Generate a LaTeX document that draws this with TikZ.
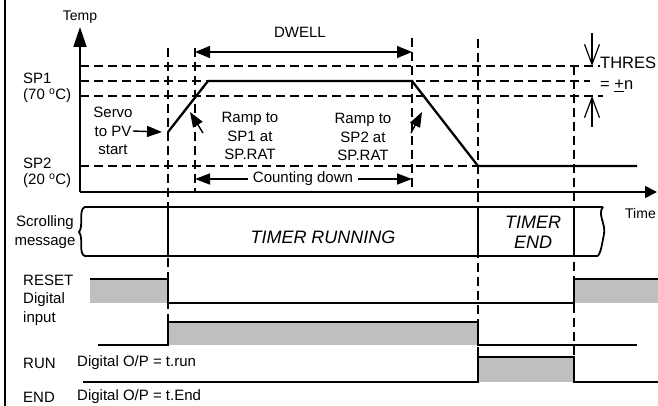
\documentclass[tikz,border=0pt]{standalone}
\usepackage{fontspec}
\setmainfont{Liberation Sans}
\usetikzlibrary{arrows.meta}

\begin{document}
\begin{tikzpicture}[x=1pt,y=-1pt]
    \tikzstyle{lbl} = [inner sep=0pt, font=\fontsize{15}{18.5}\selectfont, align=center]
    \tikzstyle{lft} = [lbl, anchor=west, align=left]
    \tikzstyle{msg} = [inner sep=0pt, font=\fontsize{18}{20}\selectfont\itshape, align=center]
    \tikzstyle{guide} = [dash pattern=on 9pt off 5pt, line width=1.2pt]
    \tikzstyle{trace} = [line width=2.3pt]
    \tikzstyle{bar} = [line width=1.8pt]
    \tikzstyle{level} = [fill=black!25, draw=none]
    \tikzstyle{tip} = [-{Triangle[length=15pt,width=11pt]}, line width=1.4pt]
    \tikzstyle{barb} = [-{Straight Barb[length=20pt,width=15pt]}, line width=1.2pt]
    \useasboundingbox (0,0) rectangle (658,406);
    \draw[line width=2pt] (5,0) -- (5,406);

    % axes
    \coordinate (origin) at (80,192);
    \coordinate (tempend) at (80,27);
    \coordinate (timeend) at (657,192);
    \draw[line width=1.8pt, -{Triangle[length=20pt,width=13pt]}] (origin) -- (tempend);
    \draw[line width=1.8pt, -{Triangle[length=12pt,width=12pt]}] (origin) -- (timeend);
    \node (temp) [lbl, font=\fontsize{14}{16}\selectfont] at (80,17) {Temp};
    \node (time) [lft, font=\fontsize{14}{16}\selectfont] at (625,213) {Time};

    % guide lines
    \draw[guide] (80,66) -- (600,66);
    \draw[guide] (80,81) -- (590,81);
    \draw[guide] (80,96) -- (603,96);
    \draw[guide] (80,166) -- (478,166);
    \draw[guide] (168,48) -- (168,345);
    \draw[guide] (195,48) -- (195,192);
    \draw[guide] (412,38) -- (412,192);
    \draw[guide] (478,39) -- (478,357);
    \draw[guide] (574,66) -- (574,357);

    \node (sp1) [lft, font=\fontsize{15}{16.5}\selectfont] at (23,88) {SP1\\(70 \textsuperscript{o}C)};
    \node (sp2) [lft, font=\fontsize{15}{16.5}\selectfont] at (23,173) {SP2\\(20 \textsuperscript{o}C)};

    % setpoint profile
    \draw[trace] (168,132) -- (208,81) -- (412,81) -- (478,166) -- (637,166);

    \node (servo) [lbl] at (113,131) {Servo\\to PV\\start};
    \coordinate (servohd) at (162,132);
    \draw[tip] (servo.east) -- (servohd);
    \node (ramp1) [lbl] at (250,136) {Ramp to\\SP1 at\\SP.RAT};
    \coordinate (r1tail) at (203,133);
    \coordinate (r1head) at (190,112);
    \draw[tip] (r1tail) -- (r1head);
    \node (ramp2) [lbl] at (363,137) {Ramp to\\SP2 at\\SP.RAT};
    \coordinate (r2tail) at (411,133);
    \coordinate (r2head) at (422,112);
    \draw[tip] (r2tail) -- (r2head);

    \node (dwell) [lbl] at (300,32) {DWELL};
    \coordinate (dwl) at (195,52);
    \coordinate (dwr) at (412,52);
    \draw[tip, {Triangle[length=15pt,width=12pt]}-{Triangle[length=15pt,width=12pt]}] (dwl) -- (dwr);

    \node (count) [lbl, inner sep=5pt] at (303,179) {Counting down};
    \coordinate (cdl) at (195,179);
    \coordinate (cdr) at (412,179);
    \draw[tip] (count.west) -- (cdl);
    \draw[tip] (count.east) -- (cdr);

    \node (thresh) [lft, font=\fontsize{16.5}{20}\selectfont] at (600,63) {THRES};
    \node (band) [lft, font=\fontsize{16.5}{20}\selectfont] at (600,86) {= \underline{+}n};
    \coordinate (thtop) at (592,33);
    \coordinate (thhi) at (592,66);
    \coordinate (thbot) at (592,127);
    \coordinate (thlo) at (592,96);
    \draw[barb] (thtop) -- (thhi);
    \draw[barb] (thbot) -- (thlo);

    % scrolling message
    \draw[bar] (84,207) -- (603,207);
    \draw[bar] (84,256) -- (598,256);
    \draw[bar] (168,207) -- (168,256);
    \draw[bar] (478,207) -- (478,256);
    \draw[bar] (574,207) -- (574,256);
    \draw[bar] (85,207) .. controls (78,209) and (84,226) .. (79,232) .. controls (84,238) and (78,254) .. (85,256);
    \draw[bar] (603,207) .. controls (597,214) and (606,224) .. (604,234) .. controls (602,244) and (601,252) .. (598,256);
    \node (scroll) [lbl, font=\fontsize{15}{19}\selectfont] at (45,232) {Scrolling\\message};
    \node (running) [msg] at (323,237) {TIMER RUNNING};
    \node (tend) [msg] at (533,232) {TIMER\\END};

    % digital signals
    \fill[level] (90,279) rectangle (168,303);
    \fill[level] (574,279) rectangle (658,303);
    \draw[trace] (90,279) -- (168,279) -- (168,303) -- (574,303) -- (574,279) -- (658,279);
    \fill[level] (168,322) rectangle (478,345);
    \draw[trace] (98,345) -- (168,345) -- (168,322) -- (478,322) -- (478,345) -- (637,345);
    \fill[level] (478,357) rectangle (574,382);
    \draw[trace] (83,382) -- (478,382) -- (478,357) -- (574,357) -- (574,382) -- (658,382);

    \node (reset) [lft] at (23,300) {RESET\\Digital\\input};
    \node (run) [lft] at (23,363) {RUN};
    \node (runop) [lft] at (77,363) {Digital O/P = t.run};
    \node (endlbl) [lft] at (23,397) {END};
    \node (endop) [lft] at (77,397) {Digital O/P = t.End};
\end{tikzpicture}
\end{document}
